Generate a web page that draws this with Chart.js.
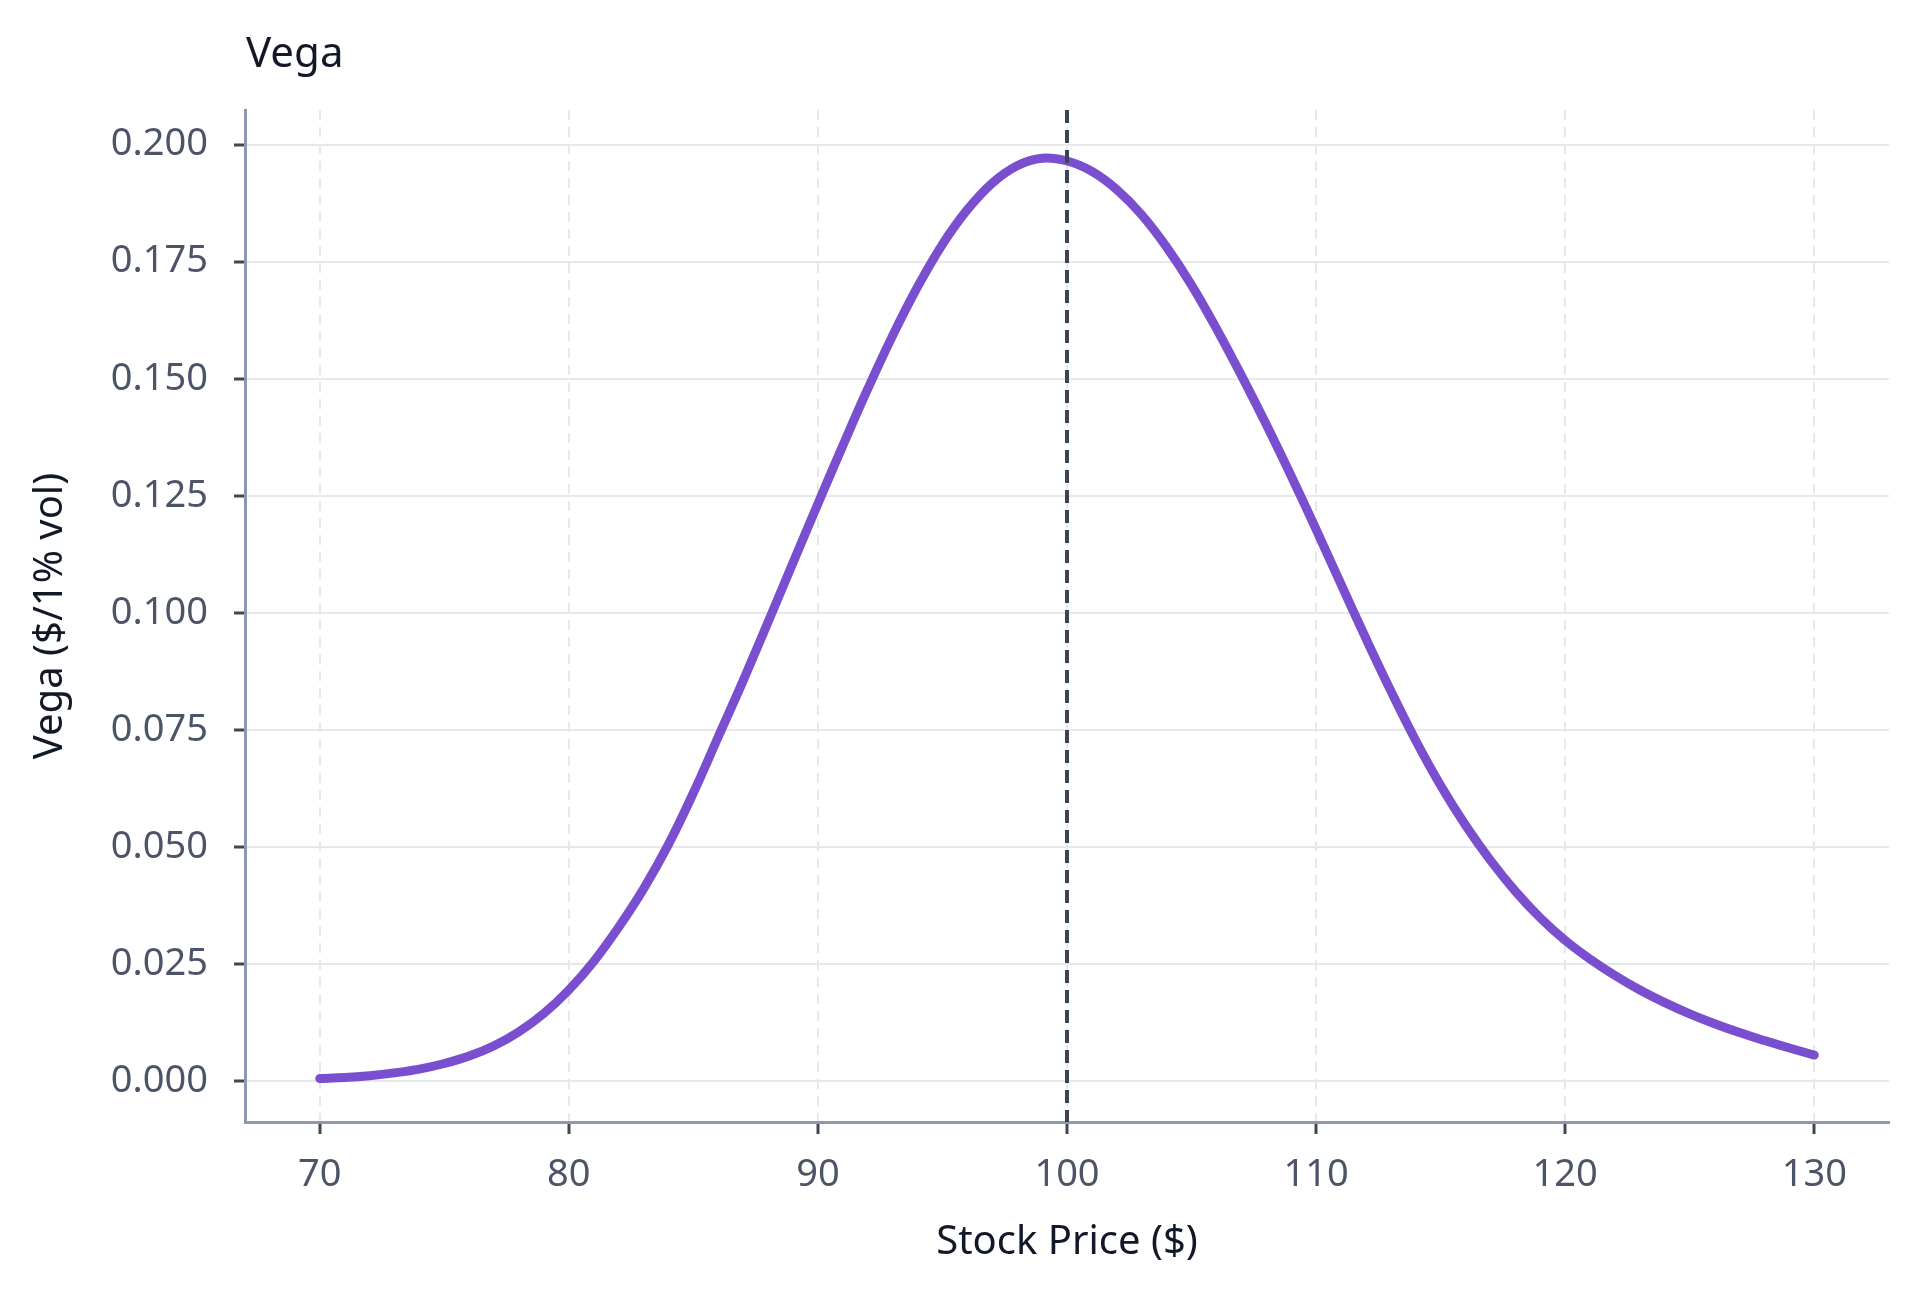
<!DOCTYPE html>
<html>
<head>
<meta charset="utf-8">
<script src="https://cdn.jsdelivr.net/npm/chart.js@4.4.1/dist/chart.umd.min.js"></script>
<style>
  html, body { margin: 0; padding: 0; background: #ffffff; }
  #wrap { width: 1920px; height: 1292px; }
</style>
</head>
<body>
<div id="wrap"><canvas id="c" width="1920" height="1292"></canvas></div>
<script>
// ---- data ----
const chartTitle = 'Vega';
const xAxisTitle = 'Stock Price ($)';
const yAxisTitle = 'Vega ($/1% vol)';
const stockPrices = [70,71,72,73,74,75,76,77,78,79,80,81,82,83,84,85,86,87,88,89,90,91,92,93,94,95,96,97,98,99,100,101,102,103,104,105,106,107,108,109,110,111,112,113,114,115,116,117,118,119,120,121,122,123,124,125,126,127,128,129,130];
const vegaValues = [0.0005,0.0007,0.0011,0.0017,0.0025,0.0037,0.0053,0.0075,0.0105,0.0144,0.0194,0.0255,0.0328,0.0410,0.0505,0.0615,0.0735,0.0855,0.0980,0.1107,0.1233,0.1357,0.1478,0.1592,0.1696,0.1787,0.1861,0.1918,0.1955,0.1971,0.1965,0.1943,0.1904,0.1850,0.1781,0.1700,0.1607,0.1507,0.1402,0.1292,0.1178,0.1061,0.0945,0.0833,0.0727,0.0631,0.0546,0.0471,0.0405,0.0348,0.0300,0.0260,0.0225,0.0194,0.0167,0.0143,0.0122,0.0103,0.0086,0.0070,0.0055];
const strikePrice = 100;
const xTickValues = [70,80,90,100,110,120,130];
const yTickValues = [0,0.025,0.05,0.075,0.1,0.125,0.15,0.175,0.2];
const xRange = [67, 133];
const yRange = [-0.0088, 0.2074];

const FONT = "'Noto Sans', 'DejaVu Sans', sans-serif";

const points = stockPrices.map((s, i) => ({x: s, y: vegaValues[i]}));

const titlePlugin = {
  id: 'leftTitle',
  afterDraw(chart) {
    const ctx = chart.ctx;
    ctx.save();
    ctx.font = '42px ' + FONT;
    ctx.fillStyle = '#111827';
    ctx.textAlign = 'left';
    ctx.textBaseline = 'alphabetic';
    ctx.fillText(chartTitle, chart.chartArea.left + 1, 67);
    ctx.restore();
  }
};

const strikePlugin = {
  id: 'strikeLine',
  afterDatasetsDraw(chart) {
    const ctx = chart.ctx;
    const xs = chart.scales.x;
    const px = xs.getPixelForValue(strikePrice);
    const area = chart.chartArea;
    ctx.save();
    ctx.strokeStyle = '#3b4455';
    ctx.lineWidth = 4;
    ctx.setLineDash([13, 7]);
    ctx.beginPath();
    ctx.moveTo(px, area.top);
    ctx.lineTo(px, area.bottom);
    ctx.stroke();
    ctx.restore();
  }
};

new Chart(document.getElementById('c'), {
  type: 'line',
  data: {
    datasets: [{
      data: points,
      borderColor: '#7a4fcf',
      borderWidth: 9,
      borderCapStyle: 'round',
      borderJoinStyle: 'round',
      pointRadius: 0,
      fill: false,
      tension: 0.4
    }]
  },
  options: {
    responsive: false,
    animation: false,
    devicePixelRatio: 1,
    layout: { padding: { top: 110, left: 0, right: 31, bottom: 0 } },
    plugins: { legend: { display: false }, tooltip: { enabled: false }, title: { display: false } },
    scales: {
      x: {
        type: 'linear',
        min: xRange[0],
        max: xRange[1],
        afterFit(scale) { scale.height = 170; },
        afterBuildTicks(scale) { scale.ticks = xTickValues.map(v => ({value: v})); },
        ticks: {
          font: { family: FONT, size: 38 },
          color: '#4b5567',
          padding: 18,
          maxRotation: 0,
          callback: v => String(v)
        },
        grid: {
          color: '#e5e8ec',
          lineWidth: 2,
          tickColor: '#3f4654',
          tickWidth: 3,
          tickLength: 12,
          tickBorderDash: []
        },
        border: { display: true, color: '#8e99ad', width: 3, dash: [10, 7] },
        title: {
          display: true,
          text: xAxisTitle,
          font: { family: FONT, size: 40, lineHeight: 1 },
          color: '#111827',
          padding: { top: 0, bottom: 29 }
        }
      },
      y: {
        type: 'linear',
        min: yRange[0],
        max: yRange[1],
        afterFit(scale) { scale.width = 245; },
        afterBuildTicks(scale) { scale.ticks = yTickValues.map(v => ({value: v})); },
        ticks: {
          font: { family: FONT, size: 38 },
          color: '#4b5567',
          padding: 26,
          callback: v => Number(v).toFixed(3)
        },
        grid: {
          color: '#e5e8ec',
          lineWidth: 2,
          tickColor: '#3f4654',
          tickWidth: 3,
          tickLength: 11
        },
        border: { display: true, color: '#8e99ad', width: 3 },
        title: {
          display: true,
          text: yAxisTitle,
          font: { family: FONT, size: 40, lineHeight: 1 },
          color: '#111827',
          padding: { top: 31, bottom: 0 }
        }
      }
    }
  },
  plugins: [titlePlugin, strikePlugin]
});
</script>
</body>
</html>
